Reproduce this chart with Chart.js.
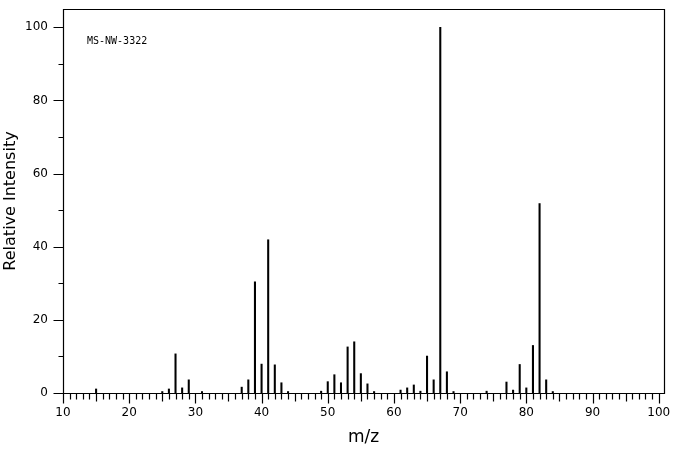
<!DOCTYPE html>
<html>
<head>
<meta charset="utf-8">
<script src="https://cdn.jsdelivr.net/npm/chart.js@4.4.1/dist/chart.umd.min.js"></script>
<style>
  body { margin: 0; background: #fff; }
  #wrap { width: 676px; height: 455px; }
</style>
</head>
<body>
<div id="wrap"><canvas id="spectrum" width="676" height="455"></canvas></div>
<script>
// peaks (m/z, relative intensity %)
const mz = [15, 25, 26, 27, 28, 29, 31, 37, 38, 39, 40, 41, 42, 43, 44, 49, 50, 51, 52, 53, 54, 55, 56, 57,
            61, 62, 63, 64, 65, 66, 67, 68, 69, 74, 77, 78, 79, 80, 81, 82, 83, 84];
const intensity = [1.1, 0.4, 1.1, 10.7, 1.4, 3.6, 0.4, 1.6, 3.6, 30.4, 7.9, 41.9, 7.7, 2.8, 0.4, 0.5, 3.1, 5.0, 2.8, 12.6, 14.0, 5.3, 2.5, 0.4,
                   0.8, 1.4, 2.2, 0.5, 10.1, 3.6, 100, 5.8, 0.4, 0.5, 3.0, 0.8, 7.8, 1.4, 13.0, 51.8, 3.6, 0.4];
const xTickLabels = [10, 20, 30, 40, 50, 60, 70, 80, 90, 100];
const yTickLabels = [0, 20, 40, 60, 80, 100];
const sampleId = 'MS-NW-3322';

const points = mz.map((m, i) => ({ x: m, y: intensity[i] }));

// frame, hand-drawn tick marks and the sample label
const framePlugin = {
  id: 'frame',
  afterDraw(chart) {
    const ctx = chart.ctx;
    const a = chart.chartArea;
    const xs = chart.scales.x, ys = chart.scales.y;
    const l = Math.round(a.left) + 0.5, r = Math.round(a.right) + 0.5;
    const t = Math.round(a.top) + 0.5, b = Math.round(a.bottom) + 0.5;
    ctx.save();
    ctx.strokeStyle = '#000';
    ctx.lineWidth = 1.2;
    ctx.beginPath();
    ctx.moveTo(l, b); ctx.lineTo(l, t); ctx.lineTo(r, t); ctx.lineTo(r, b); ctx.lineTo(l, b);
    // x ticks every unit, longer at 5 and 10
    for (let m = 10; m <= 100; m++) {
      const px = Math.round(xs.getPixelForValue(m)) + 0.5;
      const len = m % 10 === 0 ? 10 : (m % 5 === 0 ? 8 : 6);
      ctx.moveTo(px, b); ctx.lineTo(px, b + len);
    }
    // y ticks every 10, longer at 20
    for (let v = 0; v <= 100; v += 10) {
      const py = Math.round(ys.getPixelForValue(v)) + 0.5;
      const len = v % 20 === 0 ? 10 : 5;
      ctx.moveTo(l, py); ctx.lineTo(l - len, py);
    }
    ctx.stroke();
    ctx.fillStyle = '#000';
    ctx.font = '10px "DejaVu Sans Mono"';
    ctx.textBaseline = 'alphabetic';
    ctx.fillText(sampleId, a.left + 24, a.top + 35);
    ctx.restore();
  }
};

const ctx = document.getElementById('spectrum').getContext('2d');
new Chart(ctx, {
  type: 'bar',
  data: {
    datasets: [{
      data: points,
      backgroundColor: '#000',
      borderWidth: 0,
      barThickness: 1.4,
      grouped: false
    }]
  },
  options: {
    responsive: false,
    animation: false,
    layout: { padding: { top: 9, right: 12, left: 0, bottom: 0 } },
    plugins: { legend: { display: false }, tooltip: { enabled: false } },
    scales: {
      x: {
        type: 'linear',
        offset: false,
        min: 10,
        max: 100.8,
        grid: { display: false, drawTicks: false, offset: false },
        border: { display: false },
        afterBuildTicks: s => { s.ticks = xTickLabels.map(v => ({ value: v })); },
        afterFit: s => { s.height = 62; s.paddingLeft = 0; s.paddingRight = 0; },
        ticks: {
          color: '#000',
          padding: 13,
          maxRotation: 0,
          autoSkip: false,
          font: { family: 'DejaVu Sans', size: 12 }
        },
        title: {
          display: true,
          text: 'm/z',
          color: '#000',
          padding: 7,
          font: { family: 'DejaVu Sans', size: 17 }
        }
      },
      y: {
        min: 0,
        max: 105,
        grid: { display: false, drawTicks: false },
        border: { display: false },
        afterBuildTicks: s => { s.ticks = yTickLabels.map(v => ({ value: v })); },
        afterFit: s => { s.width = 63; s.paddingTop = 0; s.paddingBottom = 0; },
        ticks: {
          color: '#000',
          padding: 15,
          font: { family: 'DejaVu Sans', size: 12 }
        },
        title: {
          display: true,
          text: 'Relative Intensity',
          color: '#000',
          padding: 1,
          font: { family: 'DejaVu Sans', size: 16 }
        }
      }
    }
  },
  plugins: [framePlugin]
});
</script>
</body>
</html>
